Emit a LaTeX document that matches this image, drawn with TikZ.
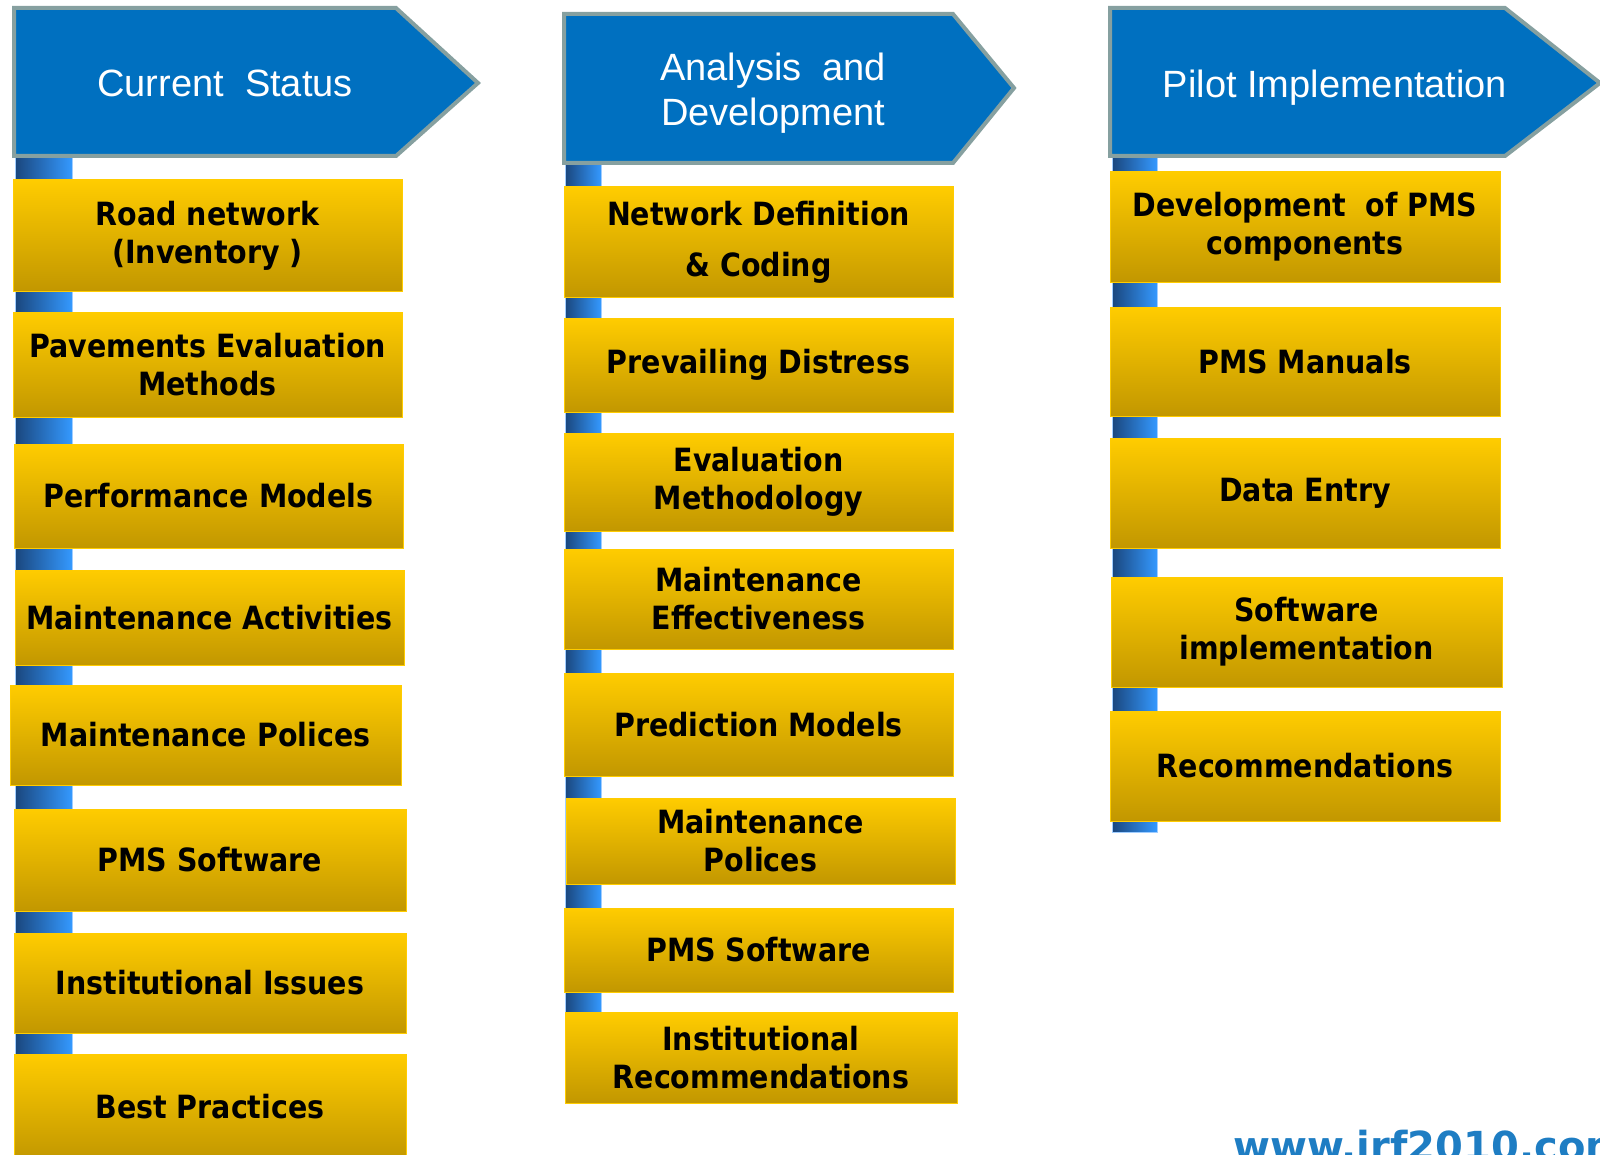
\documentclass[tikz,border=0pt]{standalone}
\usepackage{fontspec}
\setmainfont{DejaVu Sans}
\newfontfamily\taskfont[FakeStretch=0.89]{DejaVu Sans}
\newfontfamily\headfont{Liberation Sans}

\definecolor{headblue}{RGB}{0,112,192}
\definecolor{headrim}{RGB}{134,160,160}
\definecolor{goldtop}{RGB}{255,204,0}
\definecolor{goldbot}{RGB}{194,151,0}
\definecolor{poledark}{RGB}{26,70,125}
\definecolor{polelight}{RGB}{52,153,255}
\definecolor{poleedge}{RGB}{160,205,255}
\definecolor{urlblue}{RGB}{30,125,195}

\begin{document}
\begin{tikzpicture}
  [x=0.5pt, y=-0.5pt,
    every task/.style={
      rectangle,
      inner sep=0pt,
      align=center,
      top color=goldtop,
      bottom color=goldbot,
      draw=goldtop,
      line width=0.5pt,
      font=\taskfont\fontsize{16}{19}\selectfont\bfseries
    },
    header/.style={
      fill=headblue,
      draw=headrim,
      line width=2pt,
      line join=miter
    },
    header text/.style={
      text=white,
      align=center,
      font=\headfont\fontsize{19}{22.5}\selectfont
    },
    pole/.style={
      left color=poledark,
      right color=polelight,
      draw=poleedge,
      line width=0.5pt
    },
  ]
\useasboundingbox (0,0) rectangle (1600,1155);
\clip (0,0) rectangle (1600,1155);

% Draw poles behind the boxes
\foreach \xa/\xb/\ya/\yb in {15/72/150/1170, 565/601/160/1103, 1112/1157/150/832}
  \shade [pole] (\xa,\ya) rectangle (\xb,\yb);

% Draw header arrows
\filldraw [header] (14,8) -- (396,8) -- (478,83) -- (396,156) -- (14,156) -- cycle;
\filldraw [header] (564,14) -- (953,14) -- (1014,88) -- (953,163) -- (564,163) -- cycle;
\filldraw [header] (1110,8) -- (1505,8) -- (1600,83) -- (1505,156) -- (1110,156) -- cycle;

% Label headers
\node [header text] (hd-cur) at (225,83) {Current~ Status};
\node [header text] (hd-ana) at (773,93) {Analysis~ and\\Development};
\node [header text] (hd-pil) at (1335,88) {Pilot Implementation};

% Draw current status boxes
\foreach \xa/\xb/\ya/\yb/\t [count=\i] in {
    13/402/180/291/{Road network\\(Inventory )},
    13/402/312/417/{Pavements Evaluation\\Methods},
    14/403/444/548/{Performance Models},
    15/404/570/665/{Maintenance Activities},
    10/401/685/785/{Maintenance Polices},
    14/406/809/911/{PMS Software},
    14/406/933/1033/{Institutional Issues},
    14/406/1054/1160/{Best Practices}}
  \node [every task/.try, minimum width={(\xb-\xa)*0.5pt}, minimum height={(\yb-\ya)*0.5pt}]
    (cur-\i) at ({(\xa+\xb)/2},{(\ya+\yb)/2}) {\t};

% Draw analysis boxes
\foreach \xa/\xb/\ya/\yb/\t [count=\i] in {
    564/953/187/297/{Network Definition\\[6.5pt]\& Coding},
    564/953/318/412/{Prevailing Distress},
    564/953/433/531/{Evaluation\\Methodology},
    564/953/549/649/{Maintenance\\Effectiveness},
    564/953/673/776/{Prediction Models},
    566/955/798/884/{Maintenance\\Polices},
    564/953/908/992/{PMS Software},
    565/957/1012/1103/{Institutional\\Recommendations}}
  \node [every task/.try, minimum width={(\xb-\xa)*0.5pt}, minimum height={(\yb-\ya)*0.5pt}]
    (ana-\i) at ({(\xa+\xb)/2},{(\ya+\yb)/2}) {\t};

% Draw pilot boxes
\foreach \xa/\xb/\ya/\yb/\t [count=\i] in {
    1110/1500/172/282/{Development~ of PMS\\components},
    1110/1500/307/416/{PMS Manuals},
    1110/1500/438/548/{Data Entry},
    1111/1502/577/687/{Software\\implementation},
    1110/1500/711/821/{Recommendations}}
  \node [every task/.try, minimum width={(\xb-\xa)*0.5pt}, minimum height={(\yb-\ya)*0.5pt}]
    (pil-\i) at ({(\xa+\xb)/2},{(\ya+\yb)/2}) {\t};

% Web address
\node [anchor=base west, inner sep=0pt, text=urlblue,
  font=\fontsize{20}{22}\selectfont\bfseries] (url) at (1233,1160) {www.irf2010.com};
\end{tikzpicture}
\end{document}
